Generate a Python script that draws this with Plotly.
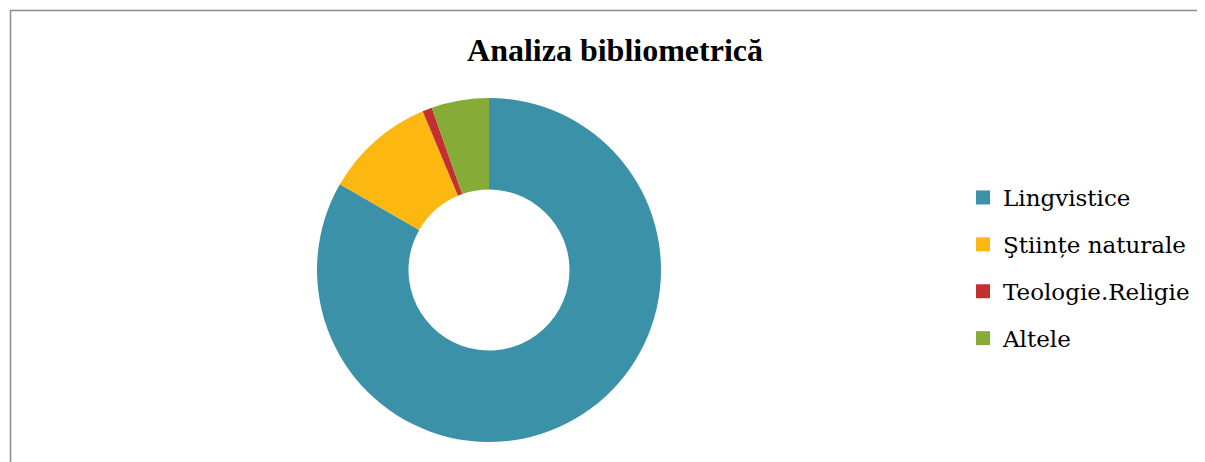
import plotly.graph_objects as go

categories = ["Lingvistice", "Ştiințe naturale", "Teologie.Religie", "Altele"]
values = [83.3, 10.4, 0.9, 5.4]
colors = ["#3A91A8", "#FDB711", "#C4302F", "#86AB36"]
title_text = "Analiza bibliometrică"

OFF = 8  # page body margin
W, H = 1205 - OFF, 462 - OFF
cx, cy, R = 489 - OFF, 270 - OFF, 172

fig = go.Figure()
fig.add_trace(go.Pie(
    labels=categories, values=values, hole=0.468, sort=False, direction="clockwise",
    rotation=0, marker=dict(colors=colors, line=dict(width=0)), textinfo="none",
    hoverinfo="label+value", showlegend=False,
    domain=dict(x=[(cx - R) / W, (cx + R) / W], y=[1 - (cy + R) / H, 1 - (cy - R) / H]),
))
for i, (c, col) in enumerate(zip(categories, colors)):
    fig.add_trace(go.Scatter(
        x=[None], y=[None], mode="markers", name=c, legendgroup=f"g{i}",
        marker=dict(symbol="square", size=14, color=col), showlegend=True,
    ))

fig.update_layout(
    width=W, height=H, margin=dict(l=0, r=0, t=0, b=0),
    paper_bgcolor="white", plot_bgcolor="white",
    xaxis=dict(visible=False), yaxis=dict(visible=False),
    title=dict(text=f"<b>{title_text}</b>", x=(615 - OFF) / W, xanchor="center",
               y=1 - (50 - OFF) / H, yanchor="middle",
               font=dict(family="Liberation Serif", size=32, color="black")),
    legend=dict(x=(963 - OFF) / W, xanchor="left", y=1 - (176 - OFF) / H, yanchor="top",
                font=dict(family="DejaVu Serif", size=23, color="black"),
                traceorder="grouped", tracegroupgap=14, itemwidth=30, bgcolor="rgba(0,0,0,0)"),
    shapes=[dict(type="rect", xref="paper", yref="paper", x0=(10.5 - OFF) / W, x1=1.1, y0=-0.1,
                 y1=1 - (10.5 - OFF) / H,
                 line=dict(color="#8C8C8C", width=1.5), fillcolor="rgba(0,0,0,0)", layer="below")],
)
fig.write_html("out.html")
